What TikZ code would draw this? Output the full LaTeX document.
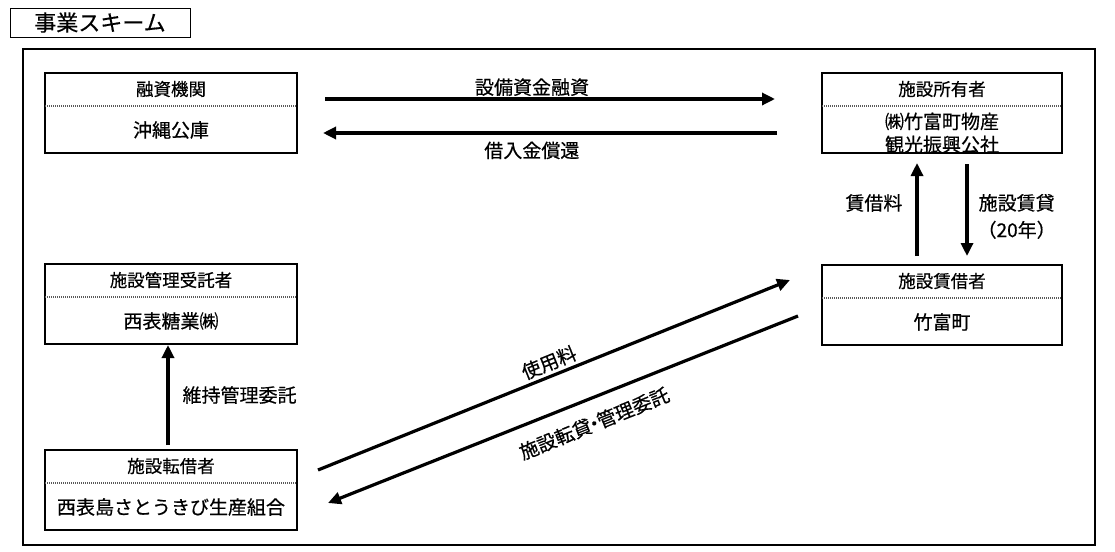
\documentclass[tikz,border=0pt]{standalone}
\usepackage{fontspec}
\setmainfont{Noto Sans CJK JP}[FakeBold=0.5]
\usepackage{tikz}
\usetikzlibrary{calc,positioning,arrows.meta}
\tikzstyle{entity} = [rectangle,
    draw=black, line width=2pt,
    minimum height=80pt,
    inner sep=0pt, outer sep=0pt]
\tikzstyle{arrow} = [line width=3.2pt, -{Triangle[length=13pt,width=12pt]}]

\begin{document}
\begin{tikzpicture}[x=1pt, y=-1pt,
    titlebox/.style={rectangle, draw=black, line width=0.8pt,
      minimum width=180pt, minimum height=29pt,
      font=\fontsize{22}{24}\selectfont, inner sep=0pt},
    frame/.style={draw=black, line width=2.5pt},
    head/.style={font=\fontsize{17.5}{20}\selectfont, inner sep=0pt},
    body/.style={font=\fontsize{19}{23}\selectfont, align=center, inner sep=0pt},
    divider/.style={line width=1.2pt, black!65, dash pattern=on 1pt off 1pt},
    lbl/.style={font=\fontsize{19}{27}\selectfont, align=center}
  ]
  \useasboundingbox (0,0) rectangle (1115,551);
  \node [titlebox] (title) at (100,22.5) {事業スキーム};
  \draw [frame] (23,49) rectangle (1095,545);

  % parties
  \node [entity, minimum width=252pt] (fin) at (171,113) {};
  \node [entity, minimum width=240pt] (own) at (942,113) {};
  \node [entity, minimum width=240pt] (les) at (942,305) {};
  \node [entity, minimum width=252pt] (mgr) at (171,304) {};
  \node [entity, minimum width=252pt] (sub) at (171,490) {};
  \foreach \b/\h in {fin/融資機関, own/施設所有者, les/施設賃借者,
                     mgr/施設管理受託者, sub/施設転借者} {
    \node [head] (\b-head) at ($(\b.north)+(0,16)$) {\h};
    \draw [divider] ($(\b.north west)+(0,33)$) -- ($(\b.north east)+(0,33)$);
  }
  \node [body] (fin-name) at ($(fin.north)+(0,57)$) {沖縄公庫};
  \node [body] (own-name) at ($(own.north)+(0,60)$) {㈱竹富町物産\\観光振興公社};
  \node [body] (les-name) at ($(les.north)+(0,57)$) {竹富町};
  \node [body] (mgr-name) at ($(mgr.north)+(0,57)$) {西表糖業㈱};
  \node [body] (sub-name) at ($(sub.north)+(0,57)$) {西表島さとうきび生産組合};

  % flows
  \draw [arrow] ($(fin.east)+(28,-14)$) -- node[lbl, pos=0.46, anchor=south, inner sep=1.5pt] {設備資金融資} ($(own.west)+(-47,-14)$);
  \draw [arrow] ($(own.west)+(-45,20)$) -- node[lbl, pos=0.54, anchor=north, inner sep=7pt] {借入金償還} ($(fin.east)+(26,20)$);
  \draw [arrow] ($(les.north)+(-25,-9)$) -- node[lbl, pos=0.57, anchor=east, inner sep=13pt] {賃借料} ($(own.south)+(-25,10)$);
  \draw [arrow] ($(own.south)+(25,11)$) -- node[lbl, pos=0.57, anchor=west, inner sep=9pt] {施設賃貸\\（20年）} ($(les.north)+(25,-9)$);
  \draw [arrow] ($(sub.north)+(-3,-5)$) -- node[lbl, midway, anchor=west, inner sep=13pt] {維持管理委託} ($(mgr.south)+(-3,1)$);
  \draw [arrow] ($(sub.east)+(21,-20)$) -- node[lbl, pos=0.5, rotate=22, anchor=south, inner sep=3pt] {使用料} ($(les.west)+(-32,-25)$);
  \draw [arrow] ($(les.west)+(-24,11)$) -- node[lbl, pos=0.453, rotate=22, anchor=north, inner sep=14pt] {施設転貸\kern-0.3em・\kern-0.3em管理委託} ($(sub.east)+(31,13)$);
\end{tikzpicture}
\end{document}
